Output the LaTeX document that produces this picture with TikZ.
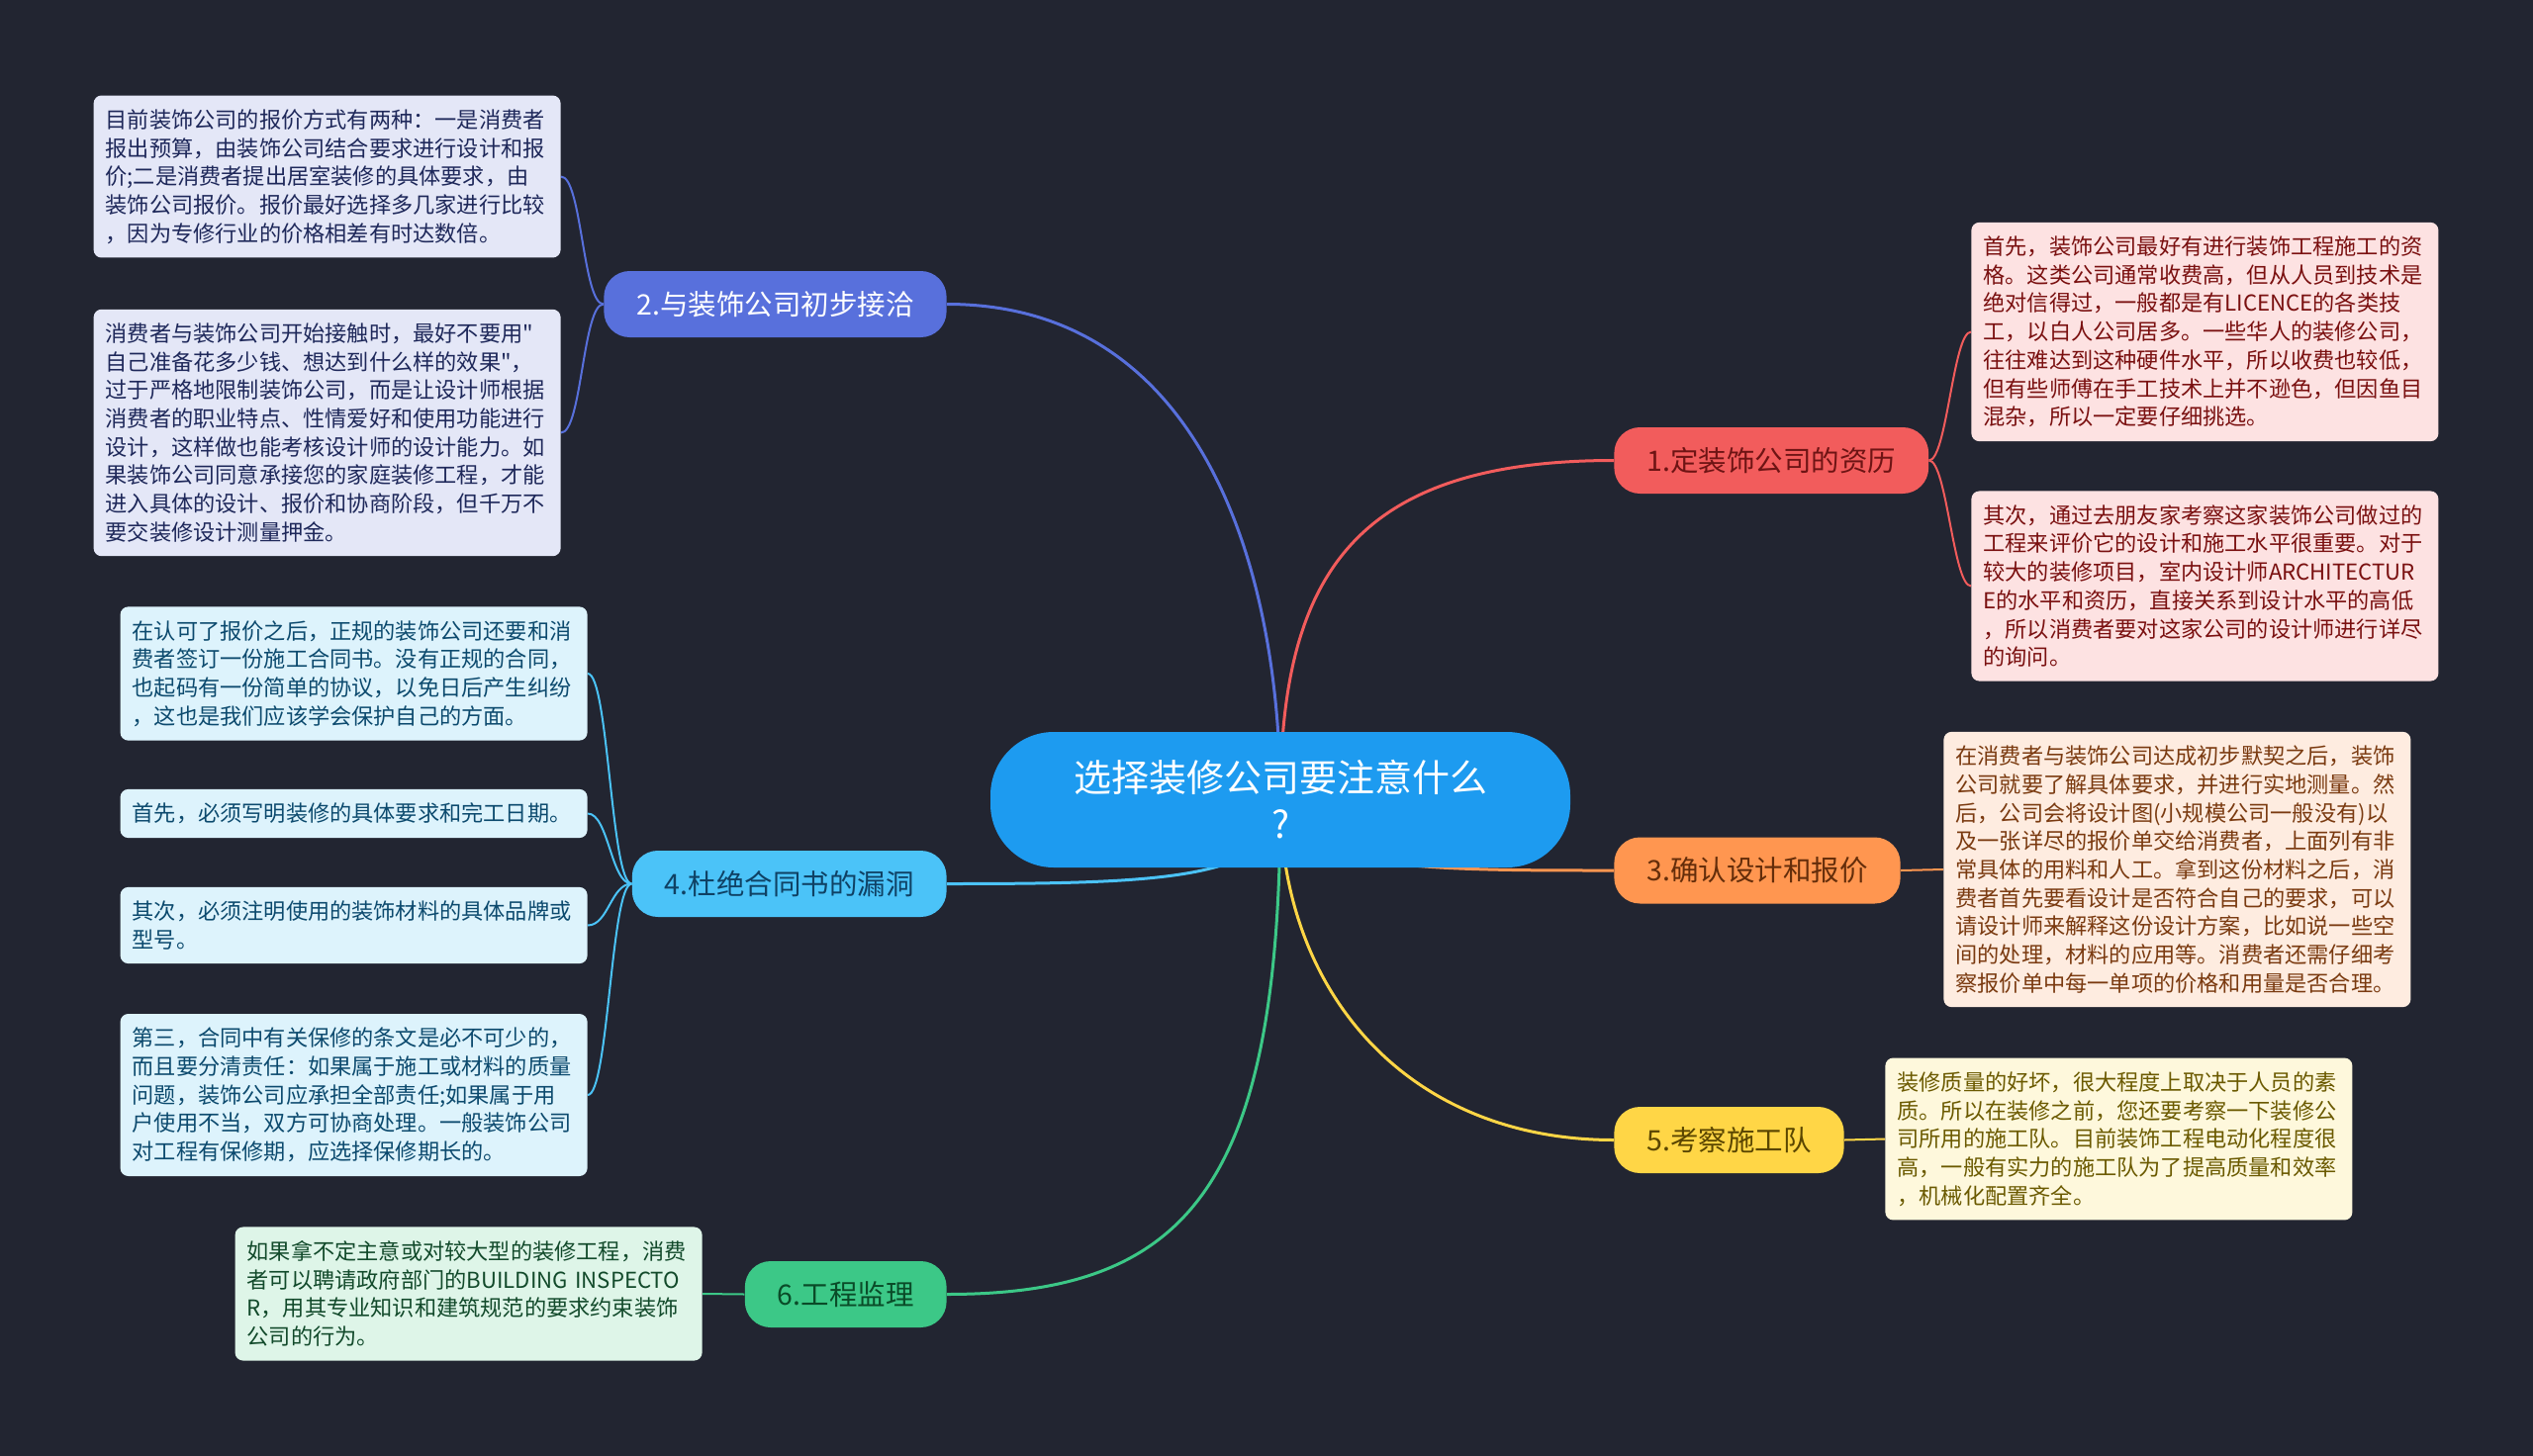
\documentclass[tikz,border=0pt]{standalone}
\usepackage{fontspec}
\setmainfont{Noto Sans CJK SC}[Ligatures=TeXOff]
\usepackage{xcolor}
\usepackage{tikz}
\usetikzlibrary{calc,positioning,backgrounds}

\definecolor{bgdark}{RGB}{34,37,49}
\definecolor{rootblue}{RGB}{29,155,240}
\definecolor{cred}{RGB}{242,92,92}
\definecolor{cindigo}{RGB}{88,112,220}
\definecolor{corange}{RGB}{255,150,80}
\definecolor{csky}{RGB}{75,195,248}
\definecolor{cyellow}{RGB}{255,214,70}
\definecolor{cgreen}{RGB}{60,200,135}
\definecolor{tred}{RGB}{110,20,20}
\definecolor{torange}{RGB}{100,45,10}
\definecolor{tsky}{RGB}{15,65,100}
\definecolor{tyellow}{RGB}{90,70,0}
\definecolor{tgreen}{RGB}{10,75,40}
\definecolor{nred}{RGB}{253,226,226}
\definecolor{nindigo}{RGB}{228,231,247}
\definecolor{norange}{RGB}{254,236,224}
\definecolor{nsky}{RGB}{221,243,252}
\definecolor{nyellow}{RGB}{254,248,220}
\definecolor{ngreen}{RGB}{222,245,232}
\definecolor{dred}{RGB}{122,16,16}
\definecolor{dindigo}{RGB}{30,40,90}
\definecolor{dorange}{RGB}{122,58,16}
\definecolor{dsky}{RGB}{12,74,110}
\definecolor{dyellow}{RGB}{107,90,0}
\definecolor{dgreen}{RGB}{18,74,43}

\begin{document}
\begin{tikzpicture}[x=0.5pt, y=-0.5pt,
    rootbox/.style={rectangle, fill=rootblue, text=white, rounded corners=32pt, minimum width=293pt, minimum height=68.5pt, align=center, font=\fontsize{19}{23.5}\selectfont},
    topic/.style 2 args={rectangle, fill=#1, text=#2, rounded corners=13pt, minimum height=33.5pt, inner xsep=16.5pt, font=\fontsize{14.25}{17}\selectfont},
    note/.style 2 args={rectangle, fill=#1, text=#2, rounded corners=4pt, text width=224pt, inner xsep=6pt, inner ysep=7pt, align=left, font=\fontsize{11.1}{14.35}\selectfont},
    mainline/.style={draw=#1, line width=1.5pt},
    twig/.style={draw=#1, line width=1pt}]

    \useasboundingbox (0,0) rectangle (2560,1472);

    \node [rootbox] at (1294,808.5) (title) {选择装修公司要注意什么\\?};

    \node [topic={cred}{tred}, anchor=west] at (1631,465.5) (qual) {1.定装饰公司的资历};
    \node [topic={cindigo}{white}, anchor=east] at (957,307.5) (contact) {2.与装饰公司初步接洽};
    \node [topic={corange}{torange}, anchor=west] at (1631,880) (design) {3.确认设计和报价};
    \node [topic={csky}{tsky}, anchor=east] at (957,893.5) (contract) {4.杜绝合同书的漏洞};
    \node [topic={cyellow}{tyellow}, anchor=west] at (1631,1152.5) (team) {5.考察施工队};
    \node [topic={cgreen}{tgreen}, anchor=east] at (957,1308.5) (supervise) {6.工程监理};

    \node [note={nindigo}{dindigo}, anchor=east] at (567,178.5) (contactA) {目前装饰公司的报价方式有两种：一是消费者\\报出预算，由装饰公司结合要求进行设计和报\\价;二是消费者提出居室装修的具体要求，由\\装饰公司报价。报价最好选择多几家进行比较\\，因为专修行业的价格相差有时达数倍。};
    \node [note={nindigo}{dindigo}, anchor=east] at (567,437.5) (contactB) {消费者与装饰公司开始接触时，最好不要用"\\自己准备花多少钱、想达到什么样的效果"，\\过于严格地限制装饰公司，而是让设计师根据\\消费者的职业特点、性情爱好和使用功能进行\\设计，这样做也能考核设计师的设计能力。如\\果装饰公司同意承接您的家庭装修工程，才能\\进入具体的设计、报价和协商阶段，但千万不\\要交装修设计测量押金。};

    \node [note={nsky}{dsky}, anchor=east] at (594,681) (contractA) {在认可了报价之后，正规的装饰公司还要和消\\费者签订一份施工合同书。没有正规的合同，\\也起码有一份简单的协议，以免日后产生纠纷\\，这也是我们应该学会保护自己的方面。};
    \node [note={nsky}{dsky}, anchor=east] at (594,822.5) (contractB) {首先，必须写明装修的具体要求和完工日期。};
    \node [note={nsky}{dsky}, anchor=east] at (594,935.5) (contractC) {其次，必须注明使用的装饰材料的具体品牌或\\型号。};
    \node [note={nsky}{dsky}, anchor=east] at (594,1107) (contractD) {第三，合同中有关保修的条文是必不可少的，\\而且要分清责任：如果属于施工或材料的质量\\问题，装饰公司应承担全部责任;如果属于用\\户使用不当，双方可协商处理。一般装饰公司\\对工程有保修期，应选择保修期长的。};

    \node [note={ngreen}{dgreen}, anchor=east] at (710,1308) (superviseA) {如果拿不定主意或对较大型的装修工程，消费\\者可以聘请政府部门的BUILDING INSPECTO\\R，用其专业知识和建筑规范的要求约束装饰\\公司的行为。};

    \node [note={nred}{dred}, anchor=west] at (1992,335.5) (qualA) {首先，装饰公司最好有进行装饰工程施工的资\\格。这类公司通常收费高，但从人员到技术是\\绝对信得过，一般都是有LICENCE的各类技\\工，以白人公司居多。一些华人的装修公司，\\往往难达到这种硬件水平，所以收费也较低，\\但有些师傅在手工技术上并不逊色，但因鱼目\\混杂，所以一定要仔细挑选。};
    \node [note={nred}{dred}, anchor=west] at (1992,592.5) (qualB) {其次，通过去朋友家考察这家装饰公司做过的\\工程来评价它的设计和施工水平很重要。对于\\较大的装修项目，室内设计师ARCHITECTUR\\E的水平和资历，直接关系到设计水平的高低\\，所以消费者要对这家公司的设计师进行详尽\\的询问。};

    \node [note={norange}{dorange}, anchor=west] at (1964,879) (designA) {在消费者与装饰公司达成初步默契之后，装饰\\公司就要了解具体要求，并进行实地测量。然\\后，公司会将设计图(小规模公司一般没有)以\\及一张详尽的报价单交给消费者，上面列有非\\常具体的用料和人工。拿到这份材料之后，消\\费者首先要看设计是否符合自己的要求，可以\\请设计师来解释这份设计方案，比如说一些空\\间的处理，材料的应用等。消费者还需仔细考\\察报价单中每一单项的价格和用量是否合理。};

    \node [note={nyellow}{dyellow}, anchor=west] at (1905,1151.5) (teamA) {装修质量的好坏，很大程度上取决于人员的素\\质。所以在装修之前，您还要考察一下装修公\\司所用的施工队。目前装饰工程电动化程度很\\高，一般有实力的施工队为了提高质量和效率\\，机械化配置齐全。};

    \begin{scope}[on background layer]
    \fill [bgdark] (0,0) rectangle (2560,1472);

    \draw [mainline=cred] (title.center) .. controls +(0,-228) and +(-261,0) .. (qual.west);
    \draw [mainline=cindigo] (title.center) .. controls +(0,-228) and +(261,0) .. (contact.east);
    \draw [mainline=corange] (title.center) .. controls +(0,72) and +(-180,0) .. (design.west);
    \draw [mainline=csky] (title.center) .. controls +(0,80) and +(225,0) .. (contract.east);
    \draw [mainline=cyellow] (title.center) .. controls +(0,192) and +(-211,0) .. (team.west);
    \draw [mainline=cgreen] (title.center) .. controls +(0,392) and +(243,0) .. (supervise.east);

    \draw [twig=cindigo] (contact.west) .. controls +(-21,0) and +(21,0) .. (contactA.east);
    \draw [twig=cindigo] (contact.west) .. controls +(-21,0) and +(21,0) .. (contactB.east);
    \draw [twig=csky] (contract.west) .. controls +(-21,0) and +(21,0) .. (contractA.east);
    \draw [twig=csky] (contract.west) .. controls +(-21,0) and +(21,0) .. (contractB.east);
    \draw [twig=csky] (contract.west) .. controls +(-21,0) and +(21,0) .. (contractC.east);
    \draw [twig=csky] (contract.west) .. controls +(-21,0) and +(21,0) .. (contractD.east);
    \draw [twig=cgreen] (supervise.west) .. controls +(-21,0) and +(21,0) .. (superviseA.east);
    \draw [twig=cred] (qual.east) .. controls +(18,0) and +(-18,0) .. (qualA.west);
    \draw [twig=cred] (qual.east) .. controls +(18,0) and +(-18,0) .. (qualB.west);
    \draw [twig=corange] (design.east) .. controls +(21,0) and +(-21,0) .. (designA.west);
    \draw [twig=cyellow] (team.east) .. controls +(21,0) and +(-21,0) .. (teamA.west);
    \end{scope}
\end{tikzpicture}
\end{document}
